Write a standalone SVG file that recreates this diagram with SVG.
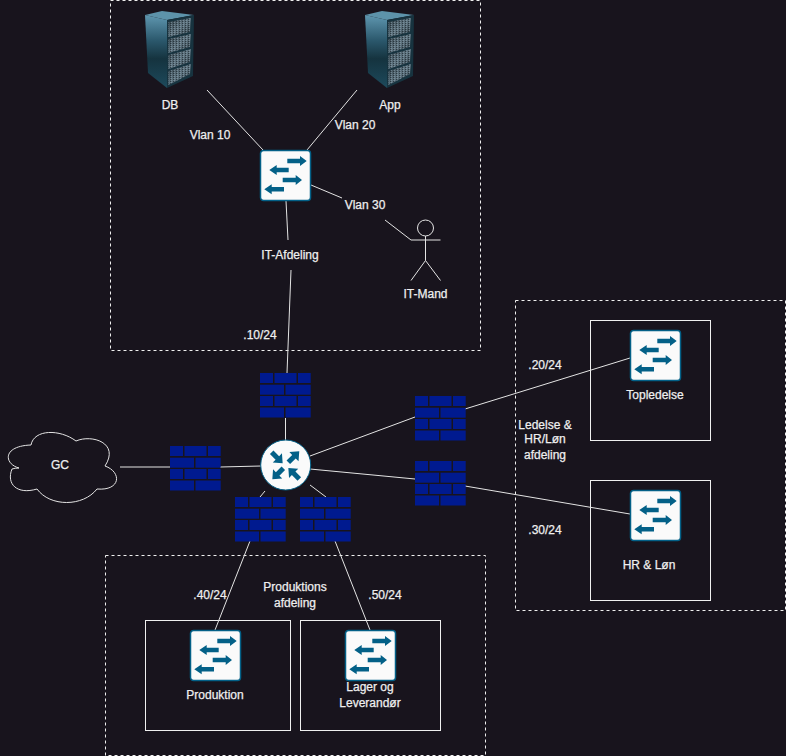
<svg xmlns="http://www.w3.org/2000/svg" width="786" height="756" viewBox="0 0 786 756">
<style>
text{font-family:"Liberation Sans",Arial,sans-serif;font-size:12px;fill:#efefef;stroke:#efefef;stroke-width:.25;text-anchor:middle}
.zone{fill:none;stroke:#f0f0f0;stroke-width:1;stroke-dasharray:3 3}
.box{fill:none;stroke:#f0f0f0;stroke-width:1}
.ln{fill:none;stroke:#e4e4e4;stroke-width:1}
.fw{fill:#001a8f}
.ar{fill:#036087}
</style>
<defs>
<linearGradient id="side" x1="0" y1="0" x2="0" y2="1"><stop offset="0" stop-color="#5f97b0"/><stop offset=".35" stop-color="#2b586c"/><stop offset=".6" stop-color="#15333f"/><stop offset="1" stop-color="#1d4a5c"/></linearGradient>
<linearGradient id="bay" x1="0" y1="0" x2="1" y2="1"><stop offset="0" stop-color="#2f3d45"/><stop offset=".5" stop-color="#5f7480"/><stop offset="1" stop-color="#2c3a42"/></linearGradient>
<pattern id="spk" width="3" height="2" patternUnits="userSpaceOnUse"><rect width="1" height="1" fill="#8fa6b2" opacity=".55"/><rect x="2" y="1" width="1" height="1" fill="#10191e" opacity=".6"/></pattern>
<g id="firewall" class="fw">
<rect x="0" y="0" width="13" height="10"/><rect x="14.500" y="0" width="22" height="10"/><rect x="38" y="0" width="12.700" height="10"/>
<rect x="0" y="11.700" width="24" height="10"/><rect x="25.500" y="11.700" width="25.200" height="10"/>
<rect x="0" y="23" width="13" height="10"/><rect x="14.500" y="23" width="22" height="10"/><rect x="38" y="23" width="12.700" height="10"/>
<rect x="0" y="34.500" width="24" height="10"/><rect x="25.500" y="34.500" width="25.200" height="10"/>
</g>
<g id="switch">
<rect x="0.500" y="0.500" width="50" height="50" rx="3" fill="#fafafa" stroke="#036087" stroke-width="1.500"/>
<path class="ar" d="M27.300 8.800H40V6L46.700 11 40 16V13.200H27.300z"/>
<path class="ar" d="M28.700 17.800H16.700V15L9.300 20 16.700 25V22.200H28.700z"/>
<path class="ar" d="M22.700 27.800H35.700V25L42 30 35.700 35V32.200H22.700z"/>
<path class="ar" d="M24 37.100H11.700V34.300L4.300 39.300 11.700 44.300V41.500H24z"/>
</g>
<path id="rarrow" d="M0 -2.500H8V-6.500L15.500 0 8 6.500V2.500H0z"/>
<g id="server">
<polygon points="145,15 162,11 194,15 167,20" fill="#5d93aa"/>
<polygon points="145,15 167,20 167,88 148,73" fill="url(#side)"/>
<polygon points="167,20 194,15 193,76 167,88" fill="#17333f"/>
<polygon points="168.500,22 191,18 190,32 168.500,37" fill="url(#bay)"/>
<polygon points="168.500,22 191,18 190,32 168.500,37" fill="url(#spk)"/>
<polygon points="168.500,39 191,34 190,47 168.500,53" fill="url(#bay)"/>
<polygon points="168.500,39 191,34 190,47 168.500,53" fill="url(#spk)"/>
<polygon points="168.500,55 191,49 190,62 168.500,69" fill="url(#bay)"/>
<polygon points="168.500,55 191,49 190,62 168.500,69" fill="url(#spk)"/>
<polygon points="168.500,71 191,64 190,74 168.500,85" fill="url(#bay)"/>
<polygon points="168.500,71 191,64 190,74 168.500,85" fill="url(#spk)"/>
</g>
</defs>
<rect width="786" height="756" fill="#18141d"/>
<g id="zones">
<rect class="zone" x="110.500" y="0.500" width="370" height="350"/>
<rect class="zone" x="515.500" y="300.500" width="270" height="310"/>
<rect class="zone" x="105.500" y="555.500" width="380" height="200"/>
<rect class="box" x="590.500" y="320.500" width="120" height="120"/>
<rect class="box" x="590.500" y="480.500" width="120" height="120"/>
<rect class="box" x="145.500" y="620.500" width="145" height="110"/>
<rect class="box" x="300.500" y="620.500" width="140" height="110"/>
</g>
<g id="connectors">
<path class="ln" d="M207 90L263 150"/>
<path class="ln" d="M357 90L307 150"/>
<path class="ln" d="M311 185L342 198M385 220L411 240"/>
<path class="ln" d="M286 201L288 240M291 270L287 373"/>
<path class="ln" d="M285.500 418V440"/>
<path class="ln" d="M120 467H170M220 467L261 466"/>
<path class="ln" d="M310 456L415 417M465 409L630 358"/>
<path class="ln" d="M310 469L415 479M465 486L630 514"/>
<path class="ln" d="M265 491L260 497M310 485L326 497"/>
<path class="ln" d="M250 541L215 630M335 541L370 630"/>
</g>
<g id="db"><use href="#server"/><text x="170" y="109">DB</text></g>
<g id="app"><use href="#server" x="220"/><text x="390" y="109">App</text></g>
<g id="it-switch"><use href="#switch" x="260" y="150"/></g>
<g id="it-mand">
<circle cx="425.500" cy="228" r="8" fill="none" stroke="#e4e4e4"/>
<path class="ln" d="M411 240H440.500M425.500 236V260.500L411 280.500M425.500 260.500L440.500 280.500"/>
<text x="425.500" y="298">IT-Mand</text>
</g>
<g id="labels">
<text x="210" y="139">Vlan 10</text>
<text x="355" y="129">Vlan 20</text>
<text x="365" y="209">Vlan 30</text>
<text x="290" y="259">IT-Afdeling</text>
<text x="260" y="339">.10/24</text>
<text x="545" y="369">.20/24</text>
<text x="545" y="534">.30/24</text>
<text x="210" y="599">.40/24</text>
<text x="385" y="599">.50/24</text>
<text x="545" y="429">Ledelse &amp;</text><text x="545" y="443">HR/Løn</text><text x="545" y="459">afdeling</text>
<text x="295" y="591">Produktions</text><text x="295" y="607">afdeling</text>
</g>
<g id="fw-top"><use href="#firewall" x="260" y="373"/></g>
<g id="fw-left"><use href="#firewall" x="170" y="446"/></g>
<g id="fw-ne"><use href="#firewall" x="415" y="396"/></g>
<g id="fw-se"><use href="#firewall" x="415" y="461"/></g>
<g id="fw-sw"><use href="#firewall" x="235" y="497"/></g>
<g id="fw-s"><use href="#firewall" x="300" y="497"/></g>
<g id="router">
<circle cx="285.700" cy="465" r="25" fill="#fafafa" stroke="#036087" stroke-width="1"/>
<g class="ar">
<use href="#rarrow" transform="translate(271.700 452.300) rotate(45)"/>
<use href="#rarrow" transform="translate(288.300 462.300) rotate(-45)"/>
<use href="#rarrow" transform="translate(283.300 468.300) rotate(135)"/>
<use href="#rarrow" transform="translate(299.300 479) rotate(225)"/>
</g>
</g>
<g id="gc">
<path d="M31 445C34 429 60 429 76 441C92 434 120 443 105 466C122 472 121 491 97 489C83 507 50 507 37 489C17 495 6 484 12 469Q15 468 19 468C4 464 2 446 31 445Z" fill="none" stroke="#e4e4e4"/>
<text x="60" y="469">GC</text>
</g>
<g id="topledelse"><use href="#switch" x="630" y="330"/><text x="655" y="399">Topledelse</text></g>
<g id="hr-lon"><use href="#switch" x="630" y="490"/><text x="649" y="569">HR &amp; Løn</text></g>
<g id="produktion"><use href="#switch" x="190" y="630"/><text x="215" y="699">Produktion</text></g>
<g id="lager"><use href="#switch" x="345" y="630"/><text x="370" y="691">Lager og</text><text x="370" y="707">Leverandør</text></g>
</svg>
